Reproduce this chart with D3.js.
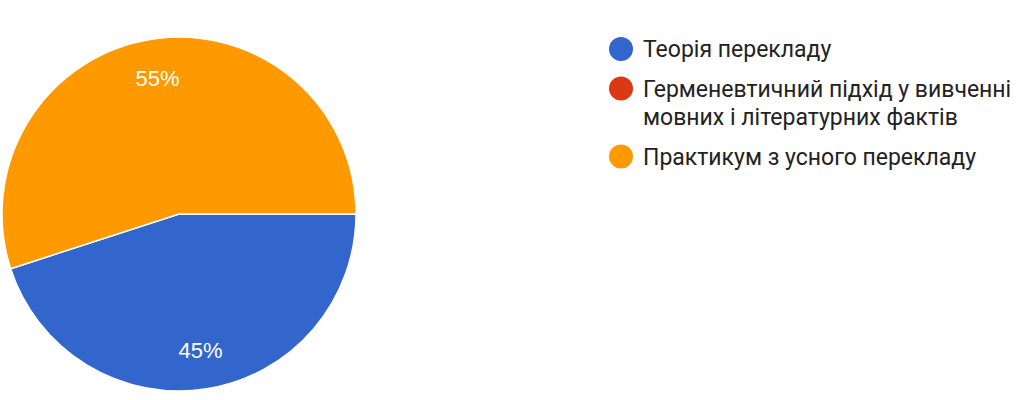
<!DOCTYPE html>
<html>
<head>
<meta charset="utf-8">
<script src="https://cdn.jsdelivr.net/npm/d3@7"></script>
<style>
  html, body { margin: 0; padding: 0; background: #fff; }
  svg { display: block; }
</style>
</head>
<body>
<svg id="chart"></svg>
<script>
const categories = [
  "Теорія перекладу",
  "Герменевтичний підхід у вивченні мовних і літературних фактів",
  "Практикум з усного перекладу"
];
const legendLines = [
  ["Теорія перекладу"],
  ["Герменевтичний підхід у вивченні", "мовних і літературних фактів"],
  ["Практикум з усного перекладу"]
];
const values = [45, 0, 55];
const colors = ["#3366cc", "#dc3912", "#ff9900"];

const layout = {
  width: 1024,
  height: 400,
  cx: 179,
  cy: 214,
  radius: 177,
  labelRatio: 0.777,
  legendX: 621,
  legendTextX: 643,
  legendTop: 57,
  lineHeight: 28.5,
  entryGap: 11,
  labelFont: "Arial, 'Liberation Sans', sans-serif",
  font: "Roboto, Arial, sans-serif",
  fontSize: 22,
  legendFontSize: 23
};

const svg = d3.select("#chart")
  .attr("width", layout.width)
  .attr("height", layout.height);

const data = categories.map((name, i) => ({ name, value: values[i], color: colors[i] }));

const pie = d3.pie()
  .sort(null)
  .value(d => d.value)
  .startAngle(Math.PI / 2)
  .endAngle(Math.PI / 2 + 2 * Math.PI);

const arc = d3.arc().innerRadius(0).outerRadius(layout.radius);
const labelArc = d3.arc()
  .innerRadius(layout.radius * layout.labelRatio)
  .outerRadius(layout.radius * layout.labelRatio);

const total = d3.sum(values);
const arcs = pie(data).filter(d => d.data.value > 0);

const g = svg.append("g")
  .attr("transform", `translate(${layout.cx},${layout.cy})`);

g.selectAll("path")
  .data(arcs)
  .join("path")
  .attr("d", arc)
  .attr("fill", d => d.data.color)
  .attr("stroke", "#fff")
  .attr("stroke-width", 1.5);

g.selectAll("text")
  .data(arcs)
  .join("text")
  .attr("transform", d => `translate(${labelArc.centroid(d)})`)
  .attr("text-anchor", "middle")
  .attr("dy", "0.36em")
  .attr("fill", "#fff")
  .attr("font-family", layout.labelFont)
  .attr("font-size", layout.fontSize)
  .text(d => `${Math.round(d.data.value / total * 100)}%`);

// legend
const legend = svg.append("g");
let y = layout.legendTop;
legendLines.forEach((lines, i) => {
  const item = legend.append("g");
  item.append("circle")
    .attr("cx", layout.legendX)
    .attr("cy", y - 8)
    .attr("r", 12)
    .attr("fill", colors[i]);
  const text = item.append("text")
    .attr("font-family", layout.font)
    .attr("font-size", layout.legendFontSize)
    .attr("fill", "#222");
  lines.forEach((line, j) => {
    text.append("tspan")
      .attr("x", layout.legendTextX)
      .attr("y", y + j * layout.lineHeight)
      .text(line);
  });
  y += lines.length * layout.lineHeight + layout.entryGap;
});
</script>
</body>
</html>
